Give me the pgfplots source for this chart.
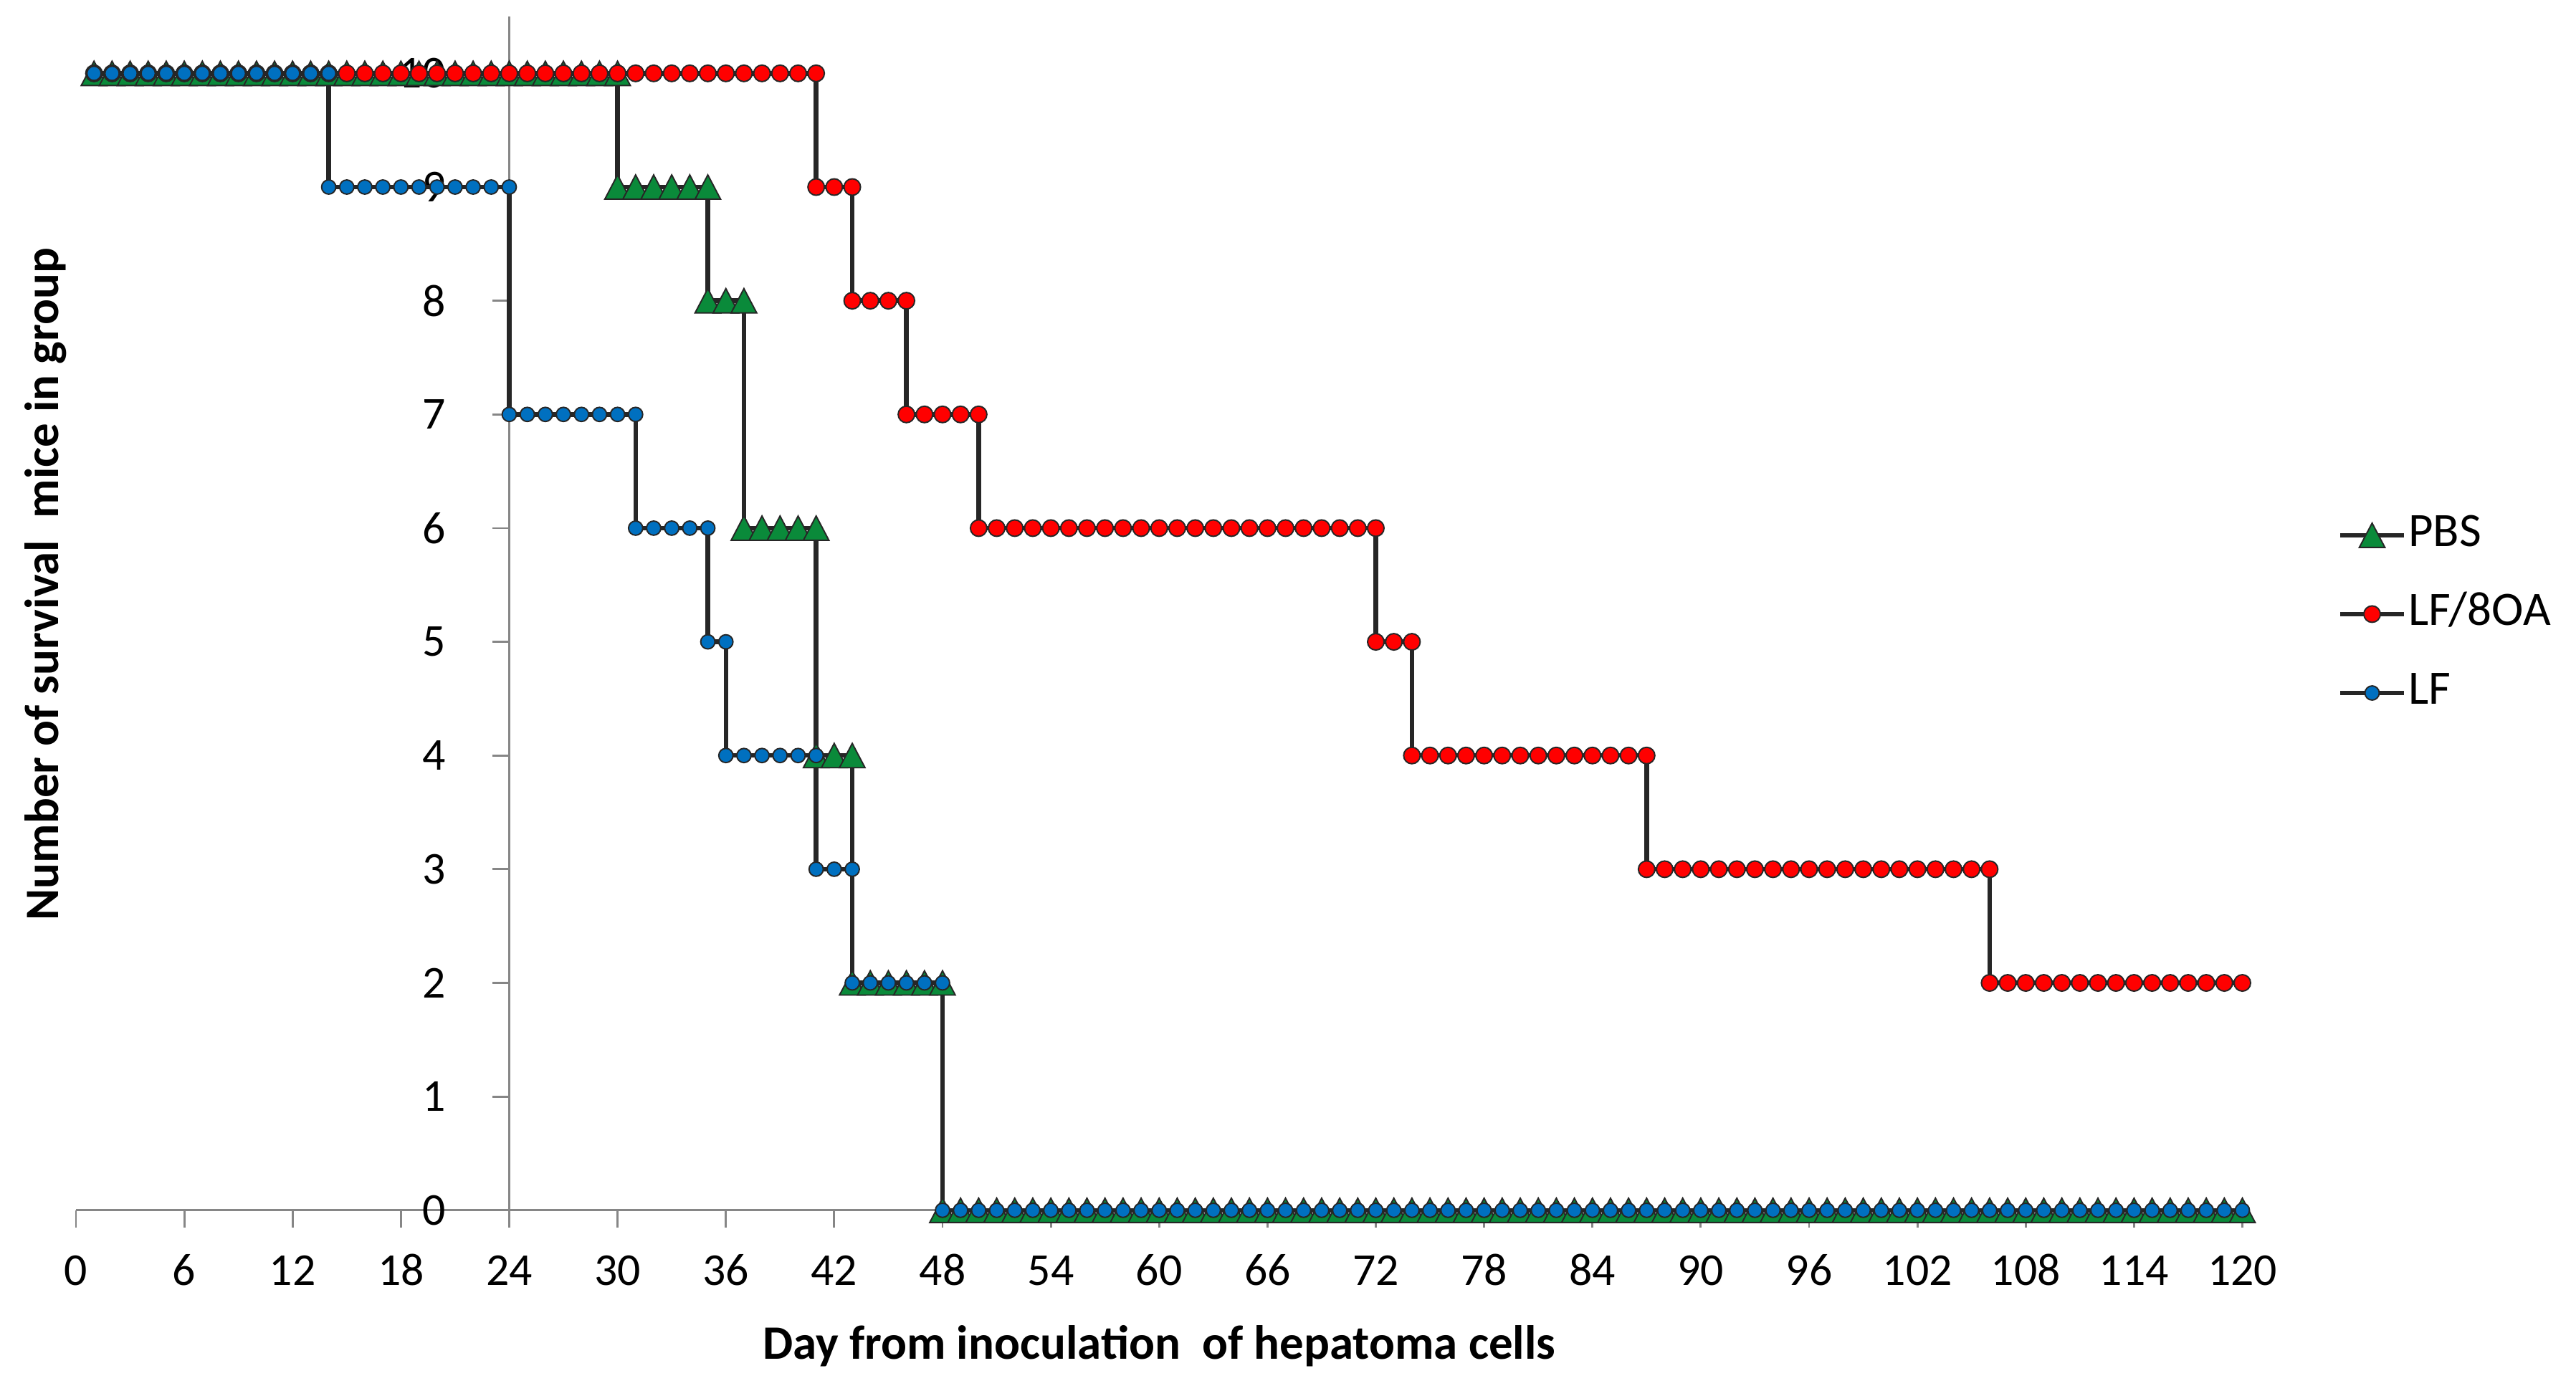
\documentclass[border=0pt]{standalone}
\usepackage{fontspec}
\setmainfont{Carlito}
\usepackage{pgfplots}
\pgfplotsset{compat=1.18}

\definecolor{pbsgreen}{RGB}{10,138,58}
\definecolor{oared}{RGB}{255,0,0}
\definecolor{lfblue}{RGB}{0,112,192}
\definecolor{linec}{RGB}{38,38,38}
\definecolor{axisgray}{RGB}{134,134,134}

% Excel-like triangle marker, centred on the data point
\pgfdeclareplotmark{xltri}{%
  \pgfpathmoveto{\pgfqpoint{0pt}{\pgfplotmarksize}}%
  \pgfpathlineto{\pgfqpoint{-1.05\pgfplotmarksize}{-\pgfplotmarksize}}%
  \pgfpathlineto{\pgfqpoint{1.05\pgfplotmarksize}{-\pgfplotmarksize}}%
  \pgfpathclose
  \pgfusepathqfillstroke}

\begin{document}
\begin{tikzpicture}
\useasboundingbox (-16.56bp,-39.38bp) rectangle (545.04bp,263.9bp);
\begin{axis}[
  scale only axis,
  width=472.3bp, height=260.3bp,
  xmin=0, xmax=120, ymin=0, ymax=10.5,
  clip=false,
  axis x line=bottom, axis y line=left,
  axis line style={-, draw=axisgray, line width=0.45bp},
  y axis line style={xshift=94.46bp},
  xtick={0,6,...,120}, ytick={0,1,...,10},
  tick align=outside, major tick length=3.7bp,
  tick style={draw=axisgray, line width=0.45bp},
  ytick style={xshift=94.46bp},
  /pgf/number format/assume math mode=true,
  xticklabel style={font=\fontsize{10}{12}\selectfont, anchor=base, inner sep=0pt, yshift=-12.6bp},
  yticklabel style={font=\fontsize{10}{12}\selectfont, anchor=east, inner sep=0pt, xshift=84.46bp},
  xlabel={Day from inoculation\ \ of hepatoma cells},
  ylabel={Number of survival\ \ mice in group},
  xlabel style={font=\bfseries\fontsize{10.5}{12}\selectfont, at={(axis description cs:0.5,0)}, anchor=base, yshift=-32.5bp},
  ylabel style={font=\bfseries\fontsize{10.5}{12}\selectfont, at={(axis description cs:-0.00794,0.5246)}, anchor=base},
  legend style={at={(rel axis cs:1.0438,0.4994)}, anchor=west, draw=none, fill=none,
    font=\fontsize{10.5}{12}\selectfont, inner sep=0pt, row sep=7.2bp,
    nodes={inner sep=0.5bp, text height=7bp, text depth=2bp}},
  legend cell align=left,
  legend image code/.code={\draw[mark repeat=2,mark phase=2,#1] plot coordinates {(0bp,0bp) (6.9bp,0bp) (13.8bp,0bp)};},
]

% PBS
\addplot[color=linec, line width=1bp, mark=xltri, mark size=2.65bp,
  mark options={fill=pbsgreen, draw=linec, line width=0.3bp}] coordinates {
(1,10) (2,10) (3,10) (4,10) (5,10) (6,10) (7,10) (8,10) (9,10) (10,10)
(11,10) (12,10) (13,10) (14,10) (15,10) (16,10) (17,10) (18,10) (19,10) (20,10)
(21,10) (22,10) (23,10) (24,10) (25,10) (26,10) (27,10) (28,10) (29,10) (30,10)
(30,9) (31,9) (32,9) (33,9) (34,9) (35,9)
(35,8) (36,8) (37,8)
(37,6) (38,6) (39,6) (40,6) (41,6)
(41,4) (42,4) (43,4)
(43,2) (44,2) (45,2) (46,2) (47,2) (48,2)
(48,0) (49,0) (50,0)
(51,0) (52,0) (53,0) (54,0) (55,0) (56,0) (57,0) (58,0) (59,0) (60,0)
(61,0) (62,0) (63,0) (64,0) (65,0) (66,0) (67,0) (68,0) (69,0) (70,0)
(71,0) (72,0) (73,0) (74,0) (75,0) (76,0) (77,0) (78,0) (79,0) (80,0)
(81,0) (82,0) (83,0) (84,0) (85,0) (86,0) (87,0) (88,0) (89,0) (90,0)
(91,0) (92,0) (93,0) (94,0) (95,0) (96,0) (97,0) (98,0) (99,0) (100,0)
(101,0) (102,0) (103,0) (104,0) (105,0) (106,0) (107,0) (108,0) (109,0) (110,0)
(111,0) (112,0) (113,0) (114,0) (115,0) (116,0) (117,0) (118,0) (119,0) (120,0)
};
\addlegendentry{PBS}

% LF/8OA
\addplot[color=linec, line width=1bp, mark=*, mark size=1.8bp,
  mark options={fill=oared, draw=linec, line width=0.3bp}] coordinates {
(1,10) (2,10) (3,10) (4,10) (5,10) (6,10) (7,10) (8,10) (9,10) (10,10)
(11,10) (12,10) (13,10) (14,10) (15,10) (16,10) (17,10) (18,10) (19,10) (20,10)
(21,10) (22,10) (23,10) (24,10) (25,10) (26,10) (27,10) (28,10) (29,10) (30,10)
(31,10) (32,10) (33,10) (34,10) (35,10) (36,10) (37,10) (38,10) (39,10) (40,10)
(41,10)
(41,9) (42,9) (43,9)
(43,8) (44,8) (45,8) (46,8)
(46,7) (47,7) (48,7) (49,7) (50,7)
(50,6) (51,6) (52,6) (53,6) (54,6) (55,6) (56,6) (57,6) (58,6) (59,6) (60,6)
(61,6) (62,6) (63,6) (64,6) (65,6) (66,6) (67,6) (68,6) (69,6) (70,6) (71,6) (72,6)
(72,5) (73,5) (74,5)
(74,4) (75,4) (76,4) (77,4) (78,4) (79,4) (80,4) (81,4) (82,4) (83,4) (84,4) (85,4) (86,4) (87,4)
(87,3) (88,3) (89,3) (90,3) (91,3) (92,3) (93,3) (94,3) (95,3) (96,3)
(97,3) (98,3) (99,3) (100,3) (101,3) (102,3) (103,3) (104,3) (105,3) (106,3)
(106,2) (107,2) (108,2) (109,2) (110,2) (111,2) (112,2) (113,2) (114,2)
(115,2) (116,2) (117,2) (118,2) (119,2) (120,2)
};
\addlegendentry{LF/8OA}

% LF
\addplot[color=linec, line width=1bp, mark=*, mark size=1.55bp,
  mark options={fill=lfblue, draw=linec, line width=0.3bp}] coordinates {
(1,10) (2,10) (3,10) (4,10) (5,10) (6,10) (7,10) (8,10) (9,10) (10,10)
(11,10) (12,10) (13,10) (14,10)
(14,9) (15,9) (16,9) (17,9) (18,9) (19,9) (20,9) (21,9) (22,9) (23,9) (24,9)
(24,7) (25,7) (26,7) (27,7) (28,7) (29,7) (30,7) (31,7)
(31,6) (32,6) (33,6) (34,6) (35,6)
(35,5) (36,5)
(36,4) (37,4) (38,4) (39,4) (40,4) (41,4)
(41,3) (42,3) (43,3)
(43,2) (44,2) (45,2) (46,2) (47,2) (48,2)
(48,0) (49,0) (50,0)
(51,0) (52,0) (53,0) (54,0) (55,0) (56,0) (57,0) (58,0) (59,0) (60,0)
(61,0) (62,0) (63,0) (64,0) (65,0) (66,0) (67,0) (68,0) (69,0) (70,0)
(71,0) (72,0) (73,0) (74,0) (75,0) (76,0) (77,0) (78,0) (79,0) (80,0)
(81,0) (82,0) (83,0) (84,0) (85,0) (86,0) (87,0) (88,0) (89,0) (90,0)
(91,0) (92,0) (93,0) (94,0) (95,0) (96,0) (97,0) (98,0) (99,0) (100,0)
(101,0) (102,0) (103,0) (104,0) (105,0) (106,0) (107,0) (108,0) (109,0) (110,0)
(111,0) (112,0) (113,0) (114,0) (115,0) (116,0) (117,0) (118,0) (119,0) (120,0)
};
\addlegendentry{LF}

\end{axis}
\end{tikzpicture}
\end{document}
